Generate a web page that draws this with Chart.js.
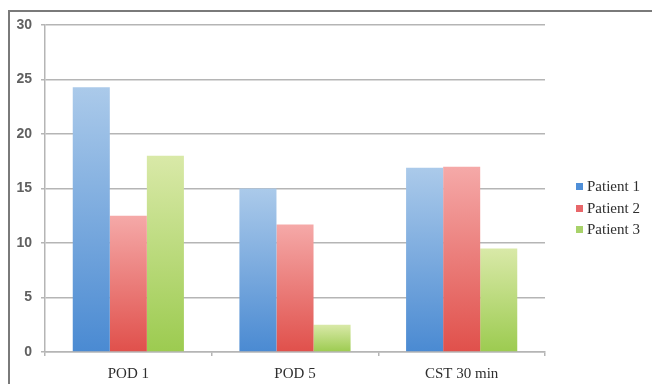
<!DOCTYPE html>
<html>
<head>
<meta charset="utf-8">
<script src="https://cdn.jsdelivr.net/npm/chart.js@4"></script>
<style>
  html, body { margin: 0; padding: 0; background: #fff; }
  #wrap { position: relative; width: 652px; height: 384px; overflow: hidden; }
  #frame { position: absolute; left: 8px; top: 10px; width: 700px; height: 400px;
           border-left: 2px solid #7a7a7a; border-top: 2px solid #7a7a7a; }
  canvas { position: absolute; left: 0; top: 0; }
</style>
</head>
<body>
<div id="wrap">
  <div id="frame"></div>
  <canvas id="chart" width="652" height="384"></canvas>
</div>
<script>
const categories = ["POD 1", "POD 5", "CST 30 min"];
const patient1 = [24.3, 15.0, 16.9];
const patient2 = [12.5, 11.7, 17.0];
const patient3 = [18.0, 2.5, 9.5];

const seriesNames = ["Patient 1", "Patient 2", "Patient 3"];
const topColors = ["#abcaea", "#f5a9a8", "#d9e9a8"];
const bottomColors = ["#4a8ad2", "#e0504b", "#9ccb50"];
const legendColors = ["#4f8fd8", "#e8676a", "#a8d26a"];

function barGradient(i) {
  return function (ctx) {
    const chart = ctx.chart;
    const area = chart.chartArea;
    if (!area || ctx.raw == null) return bottomColors[i];
    const yTop = chart.scales.y.getPixelForValue(ctx.raw);
    const g = chart.ctx.createLinearGradient(0, yTop, 0, area.bottom);
    g.addColorStop(0, topColors[i]);
    g.addColorStop(1, bottomColors[i]);
    return g;
  };
}

// legend drawn at the right, like the original
const sideLegend = {
  id: "sideLegend",
  afterDraw(chart) {
    const c = chart.ctx;
    c.save();
    c.font = "15px 'Liberation Serif'";
    c.textBaseline = "middle";
    const ys = [187, 209, 230];
    chart.data.datasets.forEach((ds, i) => {
      c.fillStyle = legendColors[i];
      c.fillRect(576, ys[i] - 4, 7, 7);
      c.fillStyle = "#2e2e2e";
      c.fillText(ds.label, 587, ys[i]);
    });
    c.restore();
  }
};

new Chart(document.getElementById("chart"), {
  type: "bar",
  data: {
    labels: categories,
    datasets: [
      { label: seriesNames[0], data: patient1, backgroundColor: barGradient(0) },
      { label: seriesNames[1], data: patient2, backgroundColor: barGradient(1) },
      { label: seriesNames[2], data: patient3, backgroundColor: barGradient(2) }
    ]
  },
  options: {
    responsive: false,
    animation: false,
    layout: { padding: { top: 25, right: 107, left: 0, bottom: 0 } },
    datasets: { bar: { barPercentage: 1, categoryPercentage: 0.667, borderWidth: 0 } },
    plugins: { legend: { display: false }, tooltip: { enabled: false } },
    scales: {
      x: {
        offset: true,
        grid: { offset: true, drawOnChartArea: false, drawTicks: true, tickLength: 4, color: "#b5b5b5", lineWidth: 1.5 },
        border: { color: "#b5b5b5", width: 1.5 },
        ticks: { padding: 9, color: "#2e2e2e", font: { family: "'Liberation Serif'", size: 15 } },
        afterFit(s) { s.height = 32; }
      },
      y: {
        min: 0,
        max: 30,
        ticks: { stepSize: 5, padding: 9, color: "#606060", font: { family: "'Liberation Sans'", size: 14, weight: "bold" } },
        grid: { color: "#b5b5b5", lineWidth: 1.5, tickLength: 4 },
        border: { color: "#b5b5b5", width: 1.5 },
        afterFit(s) { s.width = 45; }
      }
    }
  },
  plugins: [sideLegend]
});
</script>
</body>
</html>
